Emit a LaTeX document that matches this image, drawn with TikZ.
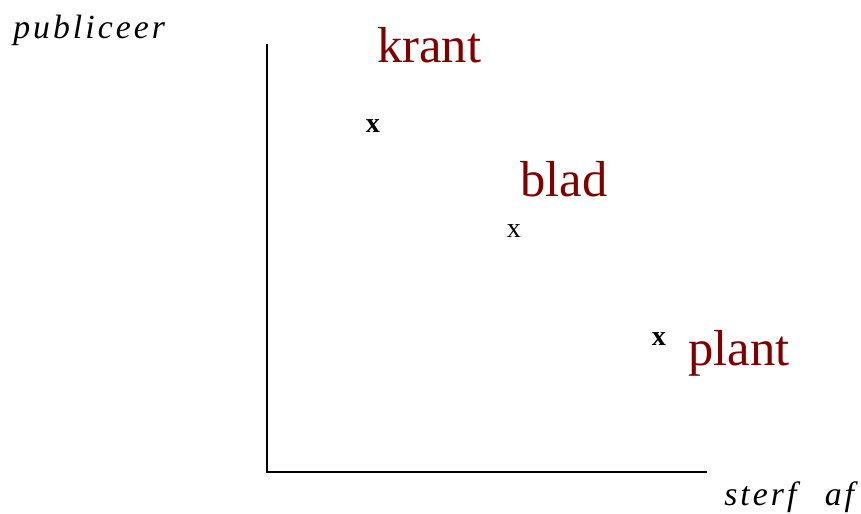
\documentclass[tikz,border=0pt]{standalone}
\usepackage{fontspec}
\setmainfont{Liberation Serif}
\usepackage{tikz}
\usetikzlibrary{positioning}
\definecolor{wordred}{RGB}{128,0,0}
\newfontfamily\spacedit[LetterSpace=9]{Liberation Serif Italic}

\begin{document}
\begin{tikzpicture}[x=0.025cm,y=0.025cm,
  word/.style={anchor=base west,inner sep=0pt,font=\fontsize{36}{40}\selectfont,color=wordred},
  axislabel/.style={anchor=base west,inner sep=0pt,font=\spacedit\fontsize{24}{28}\selectfont},
  xmark/.style={inner sep=0pt,font=\fontsize{20}{24}\selectfont}]
  \useasboundingbox (0,0) rectangle (861,-513);
  % axes
  \coordinate (origin) at (267,-472);
  \coordinate (ytop) at (267,-44);
  \coordinate (xend) at (707,-472);
  \draw[line width=1pt] (ytop) -- (origin) -- (xend);
  \node[axislabel] (publ) at (13,-38) {publiceer};
  \node[axislabel] (sterf) at (724,-505) {sterf\ \hspace{12pt}af};
  % words
  \node[word] (krant) at (377,-62) {krant};
  \node[word] (blad) at (520,-196) {blad};
  \node[word] (plant) at (688,-365) {plant};
  % marks
  \node[xmark] (xkrant) at (373,-126) {\bfseries x};
  \node[xmark] (xblad) at (514,-231) {x};
  \node[xmark] (xplant) at (659,-339) {\bfseries x};
\end{tikzpicture}
\end{document}
